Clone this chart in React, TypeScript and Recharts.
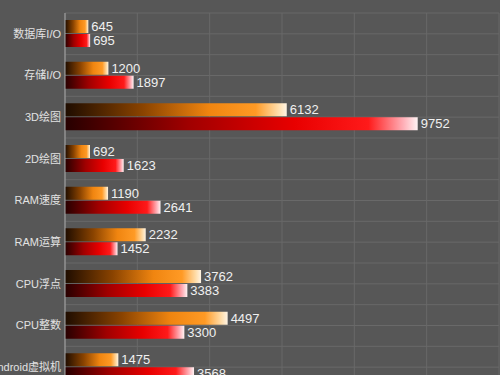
import { BarChart, Bar, XAxis, YAxis, CartesianGrid, LabelList } from "recharts";

const categories = [
  "数据库I/O",
  "存储I/O",
  "3D绘图",
  "2D绘图",
  "RAM速度",
  "RAM运算",
  "CPU浮点",
  "CPU整数",
  "Android虚拟机",
];
const orangeScores = [645, 1200, 6132, 692, 1190, 2232, 3762, 4497, 1475];
const redScores = [695, 1897, 9752, 1623, 2641, 1452, 3383, 3300, 3568];
const xTicks = [0, 2000, 4000, 6000, 8000, 10000, 12000];

const data = categories.map((name, i) => ({
  name,
  a: orangeScores[i],
  b: redScores[i],
}));

const font = '"Liberation Sans", Arial, "Noto Sans CJK SC", sans-serif';

// grid on every category edge and centre
const hLines = ({ offset }: any) => {
  const n = categories.length * 2;
  const step = offset.height / n;
  const out: number[] = [];
  for (let i = 0; i <= n; i++) out.push(offset.top + i * step);
  return out;
};

export default function App() {
  return (
    <div
      style={{
        position: "absolute",
        top: 0,
        left: 0,
        width: 500,
        height: 375,
        overflow: "hidden",
        background: "#575757",
        fontFamily: font,
      }}
    >
      <BarChart
        width={500}
        height={420}
        data={data}
        layout="vertical"
        barSize={13}
        barGap={1}
        margin={{ top: 13, right: 1, left: 0, bottom: 32 }}
      >
        <defs>
          <linearGradient id="gOrange" x1="0" y1="0" x2="1" y2="0">
            <stop offset="0%" stopColor="#1e0c00" />
            <stop offset="35%" stopColor="#8a4300" />
            <stop offset="65%" stopColor="#f08510" />
            <stop offset="86%" stopColor="#ff9a25" />
            <stop offset="96%" stopColor="#ffdca8" />
            <stop offset="100%" stopColor="#fff4e4" />
          </linearGradient>
          <linearGradient id="gRed" x1="0" y1="0" x2="1" y2="0">
            <stop offset="0%" stopColor="#260000" />
            <stop offset="35%" stopColor="#a00000" />
            <stop offset="65%" stopColor="#e80000" />
            <stop offset="86%" stopColor="#ff1a1a" />
            <stop offset="96%" stopColor="#ffb0b8" />
            <stop offset="100%" stopColor="#fff4f4" />
          </linearGradient>
        </defs>
        <CartesianGrid
          stroke="#696969"
          strokeWidth={1}
          horizontalCoordinatesGenerator={hLines}
        />
        <XAxis type="number" domain={[0, 12000]} ticks={xTicks} hide />
        <YAxis
          type="category"
          dataKey="name"
          width={65}
          axisLine={{ stroke: "#a8a8a8" }}
          tickLine={false}
          tickSize={2}
          tick={{ fill: "#e2e2e2", fontSize: 11, fontFamily: font }}
        />
        <Bar dataKey="a" fill="url(#gOrange)" isAnimationActive={false}>
          <LabelList
            dataKey="a"
            position="right"
            offset={3}
            fill="#f0f0f0"
            fontSize={13}
            fontFamily={font}
          />
        </Bar>
        <Bar dataKey="b" fill="url(#gRed)" isAnimationActive={false}>
          <LabelList
            dataKey="b"
            position="right"
            offset={3}
            fill="#f0f0f0"
            fontSize={13}
            fontFamily={font}
          />
        </Bar>
      </BarChart>
    </div>
  );
}
